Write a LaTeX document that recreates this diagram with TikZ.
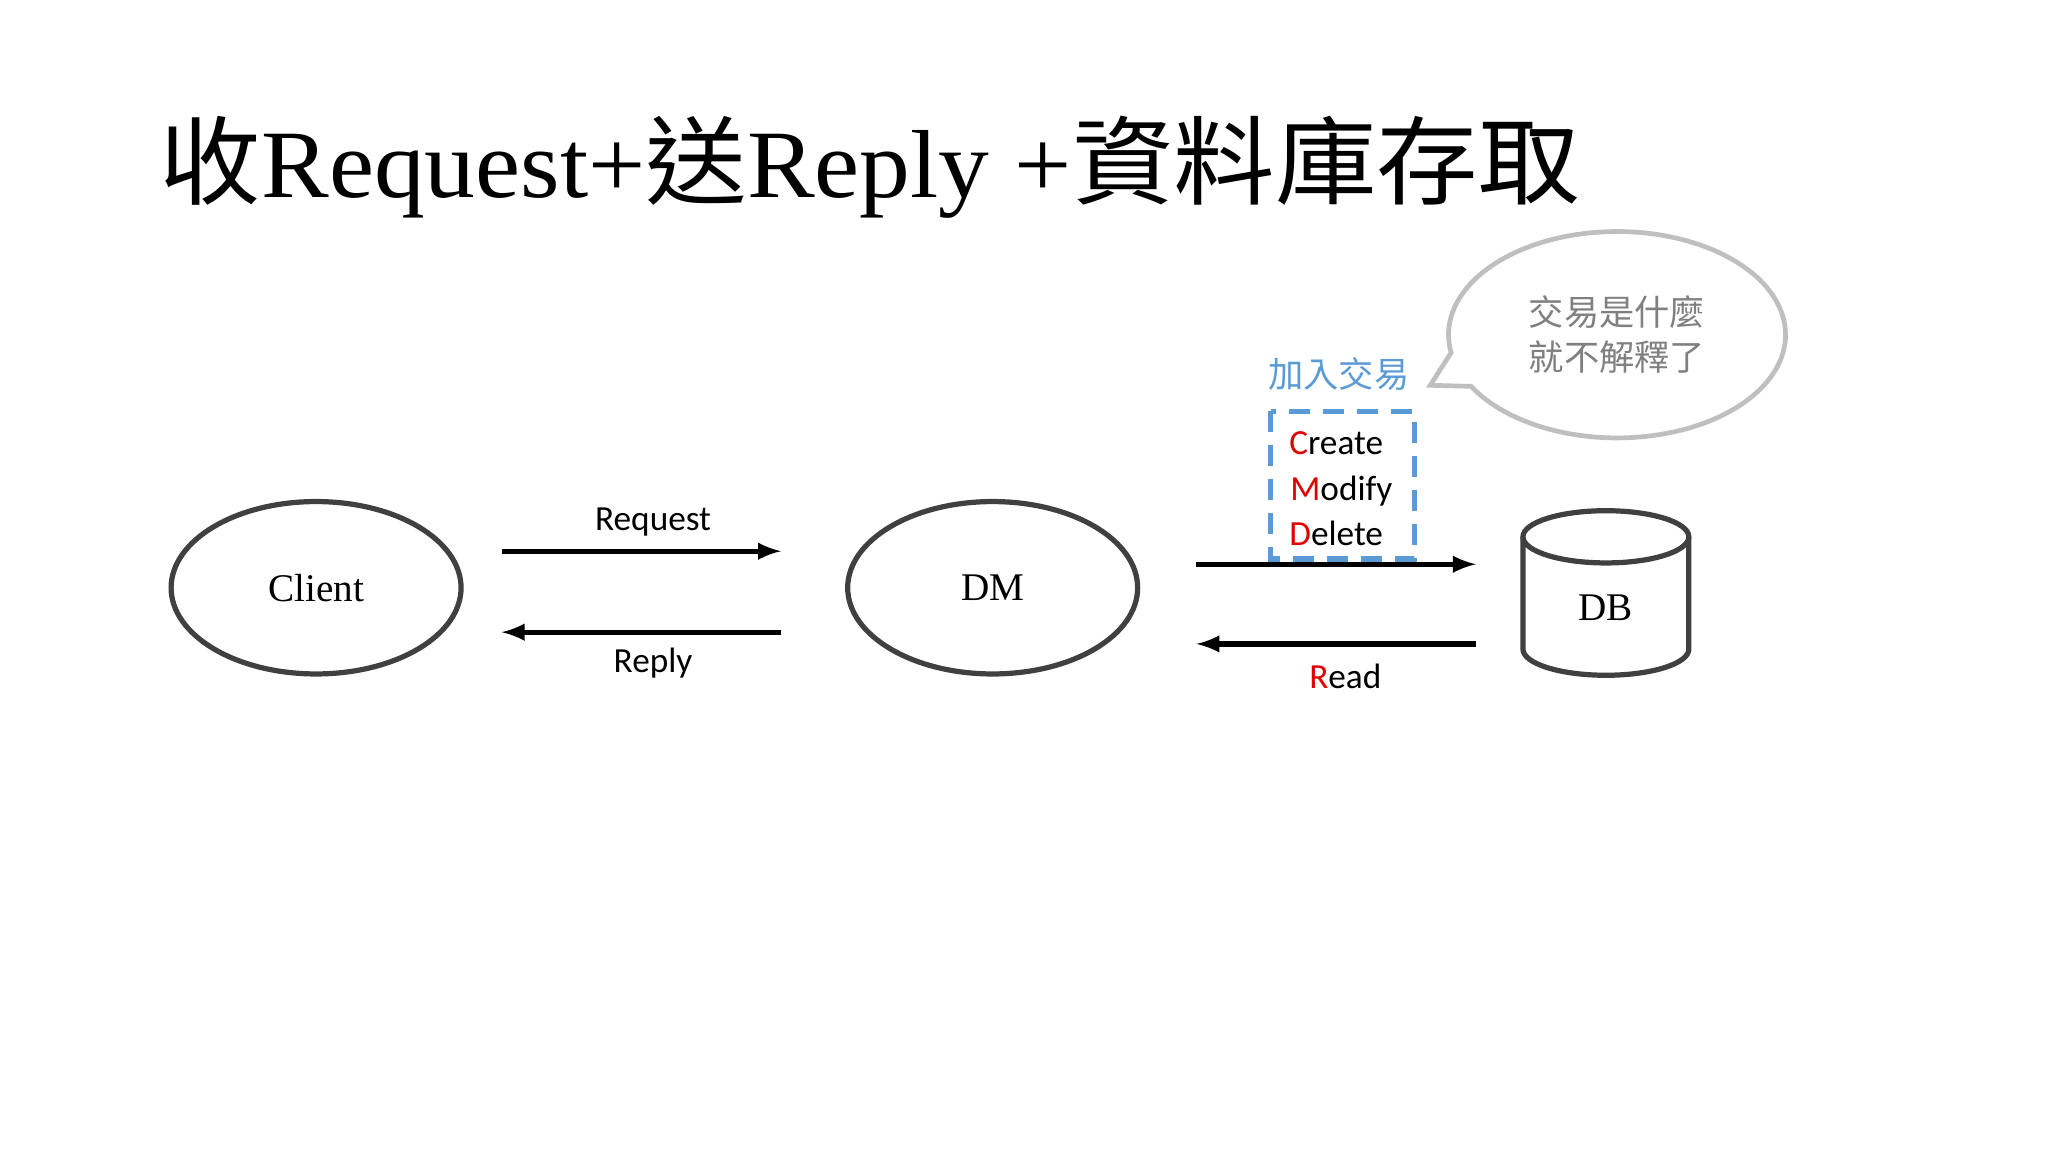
\documentclass[tikz,border=0pt]{standalone}
\usetikzlibrary{shapes.geometric}
\usepackage{fontspec}
\setmainfont{Liberation Serif}
\newfontfamily\cjk{Noto Sans CJK TC}
\newfontfamily\lab{Carlito}
\definecolor{dk}{HTML}{404040}
\definecolor{rd}{HTML}{E00000}
\definecolor{bl}{HTML}{5B9BD5}
\definecolor{gy}{HTML}{BFBFBF}
\definecolor{gt}{HTML}{808080}
\begin{document}
\begin{tikzpicture}[x=0.5pt,y=-0.5pt,
  ell/.style={draw=dk,line width=2pt,ellipse,minimum width=111pt,minimum height=66pt,font=\fontsize{15}{18}\selectfont},
  arr/.style={-latex,line width=2pt,black},
  lbl/.style={font=\lab\fontsize{13.5}{16}\selectfont,inner sep=0pt}]
\useasboundingbox (0,0) rectangle (1568,882);
\node[anchor=west,inner sep=0pt,xscale=1.05,font=\fontsize{37}{40}\selectfont] (title) at (122,128) {{\cjk 收}Request+{\cjk 送}Reply +{\cjk 資料庫存取}};
\node[ell] (client) at (242,450) {Client};
\node[ell] (dm) at (760,450) {DM};
% DB cylinder
\draw[dk,line width=2pt,fill=white] (1166,411) -- (1166,497) arc[start angle=180,end angle=0,x radius=63.5,y radius=20] -- (1293,411);
\draw[dk,line width=2pt] (1229.5,411) ellipse[x radius=63.5,y radius=20];
\node[font=\fontsize{15}{18}\selectfont] (db) at (1229,465) {DB};
\coordinate (a1) at (384,422); \coordinate (a2) at (598,422);
\coordinate (b1) at (598,484); \coordinate (b2) at (384,484);
\coordinate (c1) at (916,432); \coordinate (c2) at (1130,432);
\coordinate (d1) at (1130,493); \coordinate (d2) at (916,493);
\draw[arr] (a1) -- (a2);
\draw[arr] (b1) -- (b2);
\draw[arr] (c1) -- (c2);
\draw[arr] (d1) -- (d2);
\node[lbl] (req) at (500,400) {Request};
\node[lbl] (rep) at (500,508) {Reply};
\node[lbl] (read) at (1030,518) {{\color{rd}R}ead};
\draw[bl,line width=2pt,dash pattern=on 8pt off 5pt] (973,315) rectangle (1083,428);
\node[lbl,anchor=base] (cr) at (1023,348) {{\color{rd}C}reate};
\node[lbl,anchor=base] (mo) at (1027,383) {{\color{rd}M}odify};
\node[lbl,anchor=base] (de) at (1023,418) {{\color{rd}D}elete};
\node[font=\cjk\fontsize{13.5}{16}\selectfont,text=bl] (jr) at (1025,286) {加入交易};
\draw[gy,line width=1.8pt,fill=white] (1111,270) arc[start angle=170,end angle=510,x radius=129,y radius=79] -- (1095,295) -- cycle;
\node[font=\cjk\fontsize{13.5}{17}\selectfont,text=gt,align=left] (bub) at (1238,256) {交易是什麼\\就不解釋了};
\end{tikzpicture}
\end{document}
